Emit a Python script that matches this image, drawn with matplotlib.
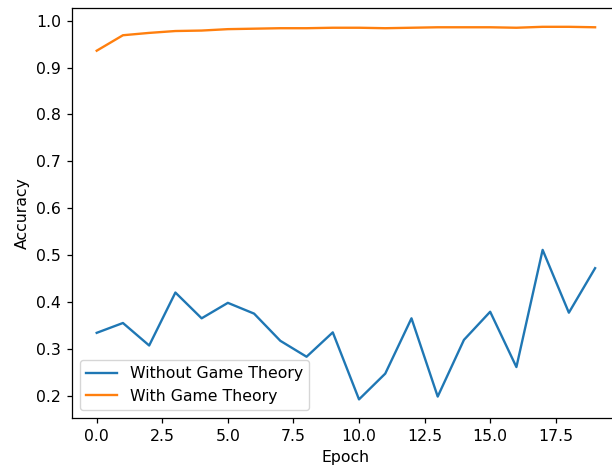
import matplotlib
matplotlib.use("Agg")
import matplotlib.pyplot as plt

epochs = list(range(20))
acc_sin_gt = [0.334, 0.355, 0.307, 0.420, 0.365, 0.398, 0.375, 0.317, 0.283, 0.335,
              0.192, 0.247, 0.365, 0.198, 0.319, 0.379, 0.261, 0.511, 0.377, 0.472]
acc_con_gt = [0.936, 0.969, 0.974, 0.978, 0.979, 0.982, 0.983, 0.984, 0.984, 0.985,
              0.985, 0.984, 0.985, 0.986, 0.986, 0.986, 0.985, 0.987, 0.987, 0.986]

# la imagen original parece escalada ~1.13x
esc = 1.13
plt.rcParams['font.size'] = 10 * esc
plt.rcParams['lines.linewidth'] = 1.5 * esc
plt.rcParams['axes.linewidth'] = 0.8 * esc
for eje in ('xtick', 'ytick'):
    plt.rcParams[f'{eje}.major.size'] = 3.5 * esc
    plt.rcParams[f'{eje}.major.width'] = 0.8 * esc
    plt.rcParams[f'{eje}.major.pad'] = 3.5 * esc

fig = plt.figure(figsize=(6.12, 4.7), dpi=100)
# el eje se sale un poco por la derecha, como en la imagen original
ax = fig.add_axes([0.1173, 0.1106, 0.8958, 0.872])

ax.plot(epochs, acc_sin_gt, label="Without Game Theory")
ax.plot(epochs, acc_con_gt, label="With Game Theory")

ax.set_xlabel("Epoch")
ax.set_ylabel("Accuracy")
ax.legend(loc="lower left")

fig.savefig("out.png", dpi=100)
